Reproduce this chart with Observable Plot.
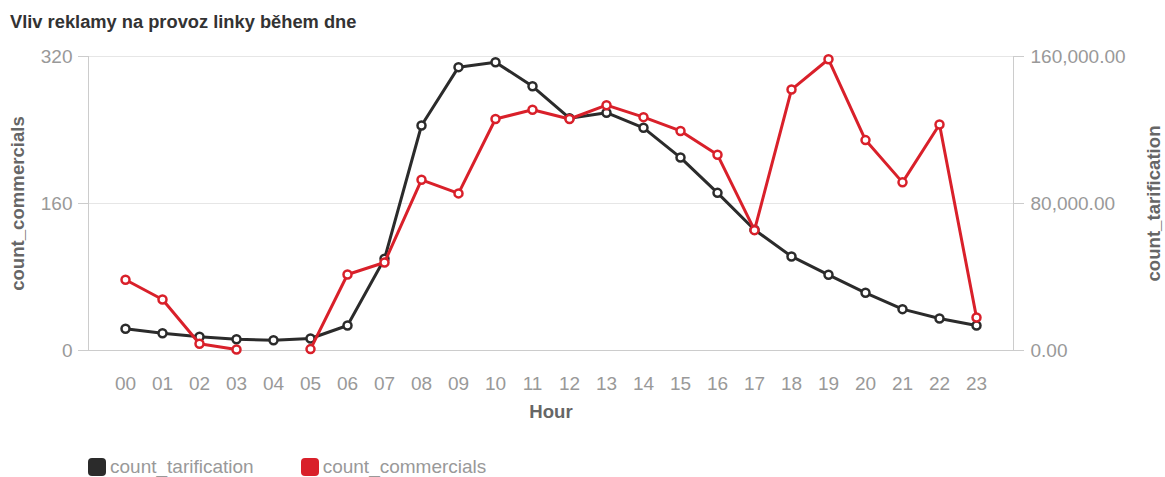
<!DOCTYPE html>
<html><head><meta charset="utf-8">
<script src="https://cdn.jsdelivr.net/npm/d3@7"></script>
<script src="https://cdn.jsdelivr.net/npm/@observablehq/plot@0.6"></script>
<style>
body{margin:0;background:#fff;font-family:"Liberation Sans",Arial,sans-serif;}
#title{height:40px;box-sizing:border-box;padding:12px 0 0 10px;font-size:18.3px;font-weight:bold;color:#333;line-height:20px}
#legend{display:flex;align-items:center;margin:17px 0 0 88px;font-size:19px;color:#999;line-height:20px}
#legend .item{display:flex;align-items:center;margin-right:47px}
#legend .sw{width:18px;height:18px;border-radius:4px;margin-right:4px}
g[aria-label="y-axis label"], g[aria-label="x-axis label"]{fill:#666;font-weight:bold;font-size:18.6px}
g[aria-label="y-axis tick label"], g[aria-label="x-axis tick label"]{fill:#999}
</style></head><body>
<div id="title">Vliv reklamy na provoz linky během dne</div>
<div id="chart"></div>
<div id="legend"></div>
<script>
const hours = ["00","01","02","03","04","05","06","07","08","09","10","11","12","13","14","15","16","17","18","19","20","21","22","23"];
const tarification = [11810,9420,7460,6150,5600,6530,13600,49900,122450,154200,156900,143800,126400,129400,121200,105000,85800,65700,51200,41200,31400,22500,17400,13600];
const commercials = [77,55.5,7.3,1,null,1.5,82.7,95.8,185.8,171,252,262,252,267,254,239,213,131,284,317,229,183,246,36];
const leftTicks = [0,160,320];
const rightTicks = [0,80000,160000];
const seriesNames = ["count_tarification","count_commercials"];
const seriesColors = ["#2b2b2b","#d9202a"];

const ratio = 160000/320;
const tData = hours.map((h,i)=>({hour:h, v:tarification[i]/ratio}));
const cData = hours.map((h,i)=>({hour:h, v:commercials[i]}));
const fmt = d3.format(",.2f");

const chart = Plot.plot({
  width:1165, height:400,
  marginTop:16, marginLeft:88, marginRight:152, marginBottom:90,
  style:{fontFamily:'"Liberation Sans",Arial,sans-serif', fontSize:"19px", background:"#fff"},
  x:{type:"point", domain:hours, padding:0.84},
  y:{domain:[0,320]},
  marks:[
    Plot.gridY(leftTicks.slice(1), {stroke:"#e6e6e6", strokeOpacity:1}),
    Plot.frame({anchor:"left", stroke:"#ccc"}),
    Plot.frame({anchor:"right", stroke:"#ccc"}),
    Plot.ruleY([0], {stroke:"#ccc"}),
    Plot.axisY({anchor:"left", ticks:leftTicks, tickSize:10, tickPadding:6, stroke:"#ccc", label:"count_commercials", labelArrow:false, labelAnchor:"center", labelOffset:78}),
    Plot.axisY({anchor:"right", ticks:rightTicks.map(d=>d/ratio), tickSize:10, tickPadding:7, stroke:"#ccc", tickFormat:d=>fmt(d*ratio), label:"count_tarification", labelArrow:false, labelAnchor:"center", labelOffset:146}),
    Plot.axisX({tickSize:0, tickPadding:26, label:"Hour", labelArrow:false, labelAnchor:"center", labelOffset:67}),
    Plot.lineY(tData, {x:"hour", y:"v", stroke:seriesColors[0], strokeWidth:3}),
    Plot.dot(tData, {x:"hour", y:"v", r:4, stroke:seriesColors[0], strokeWidth:2.5, fill:"#fff"}),
    Plot.lineY(cData, {x:"hour", y:"v", stroke:seriesColors[1], strokeWidth:3}),
    Plot.dot(cData.filter(d=>d.v!=null), {x:"hour", y:"v", r:4, stroke:seriesColors[1], strokeWidth:2.5, fill:"#fff"})
  ]
});
document.getElementById("chart").appendChild(chart);
const leg = document.getElementById("legend");
seriesNames.forEach((n,i)=>{
  const it=document.createElement("div"); it.className="item";
  it.innerHTML=`<span class="sw" style="background:${seriesColors[i]}"></span><span>${n}</span>`;
  leg.appendChild(it);
});
</script>
</body></html>
